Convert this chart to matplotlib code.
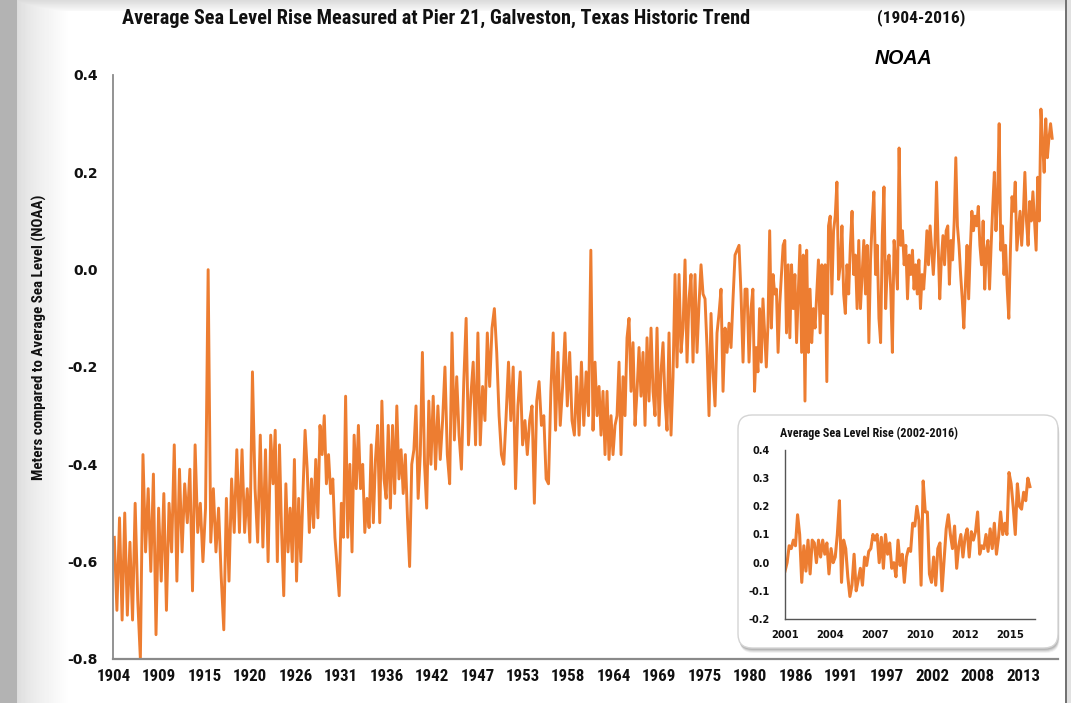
import numpy as np
import matplotlib
matplotlib.use('Agg')
import matplotlib.pyplot as plt
from matplotlib import font_manager as fm
from matplotlib.patches import FancyBboxPatch
from matplotlib.transforms import IdentityTransform

# ---------------- data (metres relative to average sea level) ----------------
seg_edges = [1904.0, 1923.02, 1942.16, 1961.30, 1980.44, 1999.34, 2016.44]

level_1904_1923 = [-0.55, -0.70, -0.51, -0.72, -0.50, -0.71, -0.56, -0.72, -0.48, -0.68,
                   -0.80, -0.38, -0.58, -0.45, -0.62, -0.42, -0.75, -0.49, -0.64, -0.46,
                   -0.70, -0.48, -0.58, -0.36, -0.64, -0.41, -0.58, -0.44, -0.52, -0.41,
                   -0.66, -0.36, -0.54, -0.48, -0.60, -0.49, 0.00, -0.56, -0.45, -0.58,
                   -0.49, -0.63, -0.74, -0.47, -0.64, -0.43, -0.54, -0.37, -0.54, -0.37,
                   -0.54, -0.45, -0.56, -0.21, -0.45, -0.56, -0.34, -0.57, -0.37, -0.60,
                   -0.34]
level_1923_1942 = [-0.44, -0.33, -0.60, -0.36, -0.54, -0.67, -0.44, -0.58, -0.49, -0.60,
                   -0.39, -0.64, -0.47, -0.60, -0.46, -0.33, -0.41, -0.54, -0.43, -0.53,
                   -0.39, -0.51, -0.32, -0.38, -0.30, -0.44, -0.38, -0.46, -0.43, -0.55,
                   -0.61, -0.67, -0.48, -0.55, -0.26, -0.55, -0.40, -0.58, -0.34, -0.45,
                   -0.32, -0.45, -0.40, -0.54, -0.47, -0.53, -0.36, -0.52, -0.39, -0.32,
                   -0.52, -0.27, -0.43, -0.47, -0.32, -0.49, -0.32, -0.46, -0.28, -0.43,
                   -0.37, -0.46, -0.38, -0.51, -0.61, -0.40, -0.37, -0.28, -0.47, -0.38,
                   -0.17, -0.40, -0.49, -0.27, -0.40]
level_1942_1961 = [-0.26, -0.41, -0.28, -0.39, -0.31, -0.20, -0.38, -0.44, -0.13, -0.35,
                   -0.22, -0.34, -0.41, -0.23, -0.10, -0.36, -0.26, -0.19, -0.36, -0.13,
                   -0.36, -0.24, -0.31, -0.13, -0.24, -0.12, -0.08, -0.17, -0.30, -0.38,
                   -0.40, -0.30, -0.19, -0.31, -0.20, -0.45, -0.28, -0.21, -0.36, -0.31,
                   -0.38, -0.31, -0.28, -0.48, -0.27, -0.23, -0.32, -0.30, -0.43, -0.44,
                   -0.25, -0.13, -0.33, -0.17, -0.32, -0.24, -0.13, -0.28, -0.17, -0.31,
                   -0.34, -0.22, -0.34, -0.19, -0.32, -0.21, -0.30, 0.04]
level_1961_1980 = [-0.33, -0.19, -0.30, -0.24, -0.34, -0.25, -0.38, -0.25, -0.39, -0.30,
                   -0.38, -0.32, -0.30, -0.19, -0.38, -0.22, -0.30, -0.14, -0.10, -0.25,
                   -0.15, -0.32, -0.25, -0.16, -0.26, -0.17, -0.32, -0.14, -0.27, -0.12,
                   -0.25, -0.30, -0.12, -0.32, -0.21, -0.15, -0.27, -0.33, -0.13, -0.34,
                   -0.22, -0.01, -0.20, -0.01, -0.17, -0.12, 0.02, -0.19, -0.06, -0.01,
                   -0.19, -0.01, -0.17, -0.07, 0.01, -0.05, -0.06, -0.16, -0.30, -0.09,
                   -0.21, -0.28, -0.13, -0.09, -0.04, -0.25, -0.12, -0.17, -0.11, -0.16,
                   -0.06, 0.03, 0.04, 0.05, -0.05, -0.19, -0.04, -0.04, -0.19, -0.08]
level_1980_1999 = [-0.04, -0.25, -0.16, -0.21, -0.08, -0.19, -0.06, -0.13, -0.20, -0.11,
                   0.08, -0.12, -0.01, -0.05, -0.04, -0.17, -0.07, -0.01, 0.05, 0.06,
                   -0.13, 0.01, -0.14, 0.01, -0.08, -0.01, -0.15, -0.05, 0.05, -0.17,
                   0.03, -0.27, 0.04, -0.17, -0.04, -0.15, -0.08, -0.12, -0.05, 0.02,
                   -0.13, 0.01, -0.09, 0.01, -0.23, 0.09, 0.11, -0.05, 0.08, 0.11,
                   0.18, -0.02, 0.01, 0.09, -0.05, -0.09, 0.01, -0.05, 0.05, 0.12,
                   -0.01, 0.03, -0.08, 0.06, -0.08, -0.01, 0.06, -0.05, 0.05, -0.15,
                   0.02, 0.10, 0.16, -0.01, 0.05, -0.10, -0.15, 0.07, 0.17, -0.08,
                   0.01, 0.03, -0.04, -0.17, 0.06, 0.02, -0.04, 0.25, 0.05, 0.08,
                   0.01, 0.05, -0.06, 0.03]
level_1999_2016 = [-0.01, 0.04, -0.04, 0.01, -0.05, 0.02, -0.08, -0.01, -0.04, 0.01,
                   0.08, 0.01, 0.09, 0.04, -0.01, 0.05, 0.18, 0.05, -0.06, 0.02,
                   0.07, 0.01, 0.08, 0.09, -0.03, 0.06, 0.02, 0.10, 0.23, 0.09,
                   0.05, -0.01, -0.06, -0.12, -0.03, 0.05, -0.06, 0.04, 0.12, 0.08,
                   0.11, 0.09, 0.13, 0.05, 0.01, 0.10, -0.04, 0.04, 0.06, -0.04,
                   0.05, 0.13, 0.20, 0.08, 0.15, 0.30, 0.04, 0.09, -0.01, 0.05,
                   -0.04, -0.10, 0.04, 0.15, 0.12, 0.18, 0.04, 0.08, 0.12, 0.05,
                   0.11, 0.20, 0.10, 0.05, 0.14, 0.10, 0.16, 0.10, 0.04, 0.19,
                   0.10, 0.33, 0.26, 0.20, 0.31, 0.23, 0.27, 0.30, 0.27]
segments = [level_1904_1923, level_1923_1942, level_1942_1961,
            level_1961_1980, level_1980_1999, level_1999_2016]

x_tick_labels = ['1904', '1909', '1915', '1920', '1926', '1931', '1936', '1942', '1947',
                 '1953', '1958', '1964', '1969', '1975', '1980', '1986', '1991', '1997',
                 '2002', '2008', '2013']
y_ticks = [-0.8, -0.6, -0.4, -0.2, 0.0, 0.2, 0.4]
y_tick_labels = ['-0.8', '-0.6', '-0.4', '-0.2', '0.0', '0.2', '0.4']

# inset: 2002-2016 detail
inset_start, inset_end = 2001.0, 2016.0
inset_level = [-0.03, 0.00, 0.06, 0.05, 0.08, 0.06, 0.17, 0.10, -0.07, 0.06,
               -0.03, 0.08, -0.04, 0.08, 0.07, 0.00, 0.08, 0.02, 0.08, 0.03,
               0.07, -0.04, 0.05, 0.00, 0.02, 0.10, 0.22, -0.07, 0.08, 0.05,
               -0.05, -0.12, -0.08, 0.03, -0.10, -0.06, -0.02, -0.08, 0.02, -0.01,
               0.04, 0.05, 0.10, 0.08, 0.10, 0.00, 0.09, -0.02, 0.10, 0.03,
               0.07, -0.02, 0.00, -0.05, 0.08, -0.01, 0.03, -0.07, 0.02, 0.05,
               0.04, 0.14, 0.13, 0.20, 0.15, -0.08, 0.29, 0.18, 0.18, -0.04,
               -0.07, 0.02, -0.08, 0.05, 0.07, -0.10, 0.01, 0.12, 0.17, 0.10,
               0.05, 0.13, -0.02, 0.06, 0.10, 0.02, 0.09, 0.12, 0.02, 0.11,
               0.08, 0.11, 0.18, 0.03, 0.06, 0.05, 0.10, 0.04, 0.12, 0.05,
               0.14, 0.03, 0.09, 0.18, 0.10, 0.14, 0.10, 0.32, 0.28, 0.20,
               0.10, 0.28, 0.20, 0.19, 0.25, 0.22, 0.30, 0.27]
inset_x_labels = ['2001', '2004', '2007', '2010', '2012', '2015']
inset_y_ticks = [-0.2, -0.1, 0.0, 0.1, 0.2, 0.3, 0.4]
inset_y_labels = ['-0.2', '-0.1', '0.0', '0.1', '0.2', '0.3', '0.4']

# ---------------- fonts ----------------
names = {f.name for f in fm.fontManager.ttflist}
COND = None
COND_STRETCH = 'normal'
for cand in ['Liberation Sans Narrow', 'Roboto Condensed', 'Open Sans Condensed',
             'Arial Narrow', 'Nimbus Sans Narrow', 'DejaVu Sans Condensed']:
    if cand in names:
        COND = cand
        break
if COND is None and any(f.name == 'DejaVu Sans' and f.stretch == 'condensed'
                        for f in fm.fontManager.ttflist):
    COND = 'DejaVu Sans'
    COND_STRETCH = 'condensed'
if COND is None:
    COND = 'Liberation Sans' if 'Liberation Sans' in names else 'DejaVu Sans'
NARROW = [COND, 'DejaVu Sans']

# ---------------- figure ----------------
W, H = 1071, 703
ORANGE = '#ED7D31'
fig = plt.figure(figsize=(W / 100, H / 100), dpi=100)
fig.patch.set_facecolor('white')

# background frame shading (left shadow, top band, right border)
bg = np.ones((H, W))
xs = np.arange(W)
left = np.ones(W)
left[:17] = 0.70
g = (xs >= 17) & (xs < 70)
left[g] = 0.86 + 0.14 * ((xs[g] - 17) / 53.0) ** 0.7
ys = np.arange(H)
top = np.ones(H)
top[:11] = 0.86 + 0.12 * ys[:11] / 11.0
bg = np.minimum(bg, left[None, :])
bg = np.minimum(bg, top[:, None])
bg[:, 1065:1067] = 0.45
bg[:, 1067:] = 0.88
bgax = fig.add_axes([0, 0, 1, 1], zorder=-10)
bgax.imshow(bg, cmap='gray', vmin=0, vmax=1, aspect='auto', interpolation='bilinear')
bgax.axis('off')

# main axes
ax = fig.add_axes([113 / W, 1 - 659 / H, (1058 - 113) / W, (659 - 75) / H], zorder=1)
ax.set_facecolor('none')
xs_all, ys_all = [], []
for i, seg in enumerate(segments):
    a, b = seg_edges[i], seg_edges[i + 1]
    n = len(seg)
    xs_all.append(a + (np.arange(n) + 0.5) * (b - a) / n)
    ys_all.append(np.array(seg))
years = np.concatenate(xs_all)
levels = np.concatenate(ys_all)
ax.plot(years, levels, color=ORANGE, lw=2.1, solid_joinstyle='round')
ax.set_xlim(1904.0, 2017.04)
ax.set_ylim(-0.8, 0.4)
ax.set_yticks(y_ticks)
ax.set_yticklabels(y_tick_labels, fontfamily='DejaVu Sans', fontweight='bold', fontsize=10)
ax.set_xticks(np.linspace(1904.1, 2012.85, len(x_tick_labels)))
ax.set_xticklabels(x_tick_labels, fontfamily=NARROW, fontweight='bold',
                   fontstretch=COND_STRETCH, fontsize=13)
ax.tick_params(axis='both', length=0, colors='#111111')
ax.tick_params(axis='x', pad=7)
ax.tick_params(axis='y', pad=11)
for s in ['top', 'right']:
    ax.spines[s].set_visible(False)
ax.spines['left'].set_color('#8a8a8a')
ax.spines['left'].set_linewidth(1.3)
ax.spines['bottom'].set_color('#8a8a8a')
ax.spines['bottom'].set_linewidth(1.6)

# inset box with shadow (pixel coordinates)
bx0, by0, bw, bh = 738, H - 648, 320, 233
for k, al in [(5, 0.05), (4, 0.07), (3, 0.09), (2, 0.10)]:
    sh = FancyBboxPatch((bx0 + k * 0.3, by0 - k), bw, bh,
                        boxstyle='round,pad=0,rounding_size=14',
                        transform=IdentityTransform(), facecolor='black',
                        edgecolor='none', alpha=al, zorder=4)
    fig.add_artist(sh)
box = FancyBboxPatch((bx0, by0), bw, bh, boxstyle='round,pad=0,rounding_size=14',
                     transform=IdentityTransform(), facecolor='white',
                     edgecolor='#d4d4d4', linewidth=1.0, zorder=5)
fig.add_artist(box)

iax = fig.add_axes([785 / W, 1 - 619 / H, 250 / W, 169 / H], zorder=6)
iax.set_facecolor('none')
ix = np.linspace(inset_start, inset_end, len(inset_level))
iax.plot(ix, inset_level, color=ORANGE, lw=2.2, solid_joinstyle='round')
iax.set_xlim(2001.0, 2016.31)
iax.set_ylim(-0.2, 0.4)
iax.set_yticks(inset_y_ticks)
iax.set_yticklabels(inset_y_labels, fontfamily='DejaVu Sans', fontweight='bold', fontsize=7)
iax.set_xticks(np.linspace(2001.0, 2001.0 + 5 * 2.755, len(inset_x_labels)))
iax.set_xticklabels(inset_x_labels, fontfamily='DejaVu Sans', fontweight='bold', fontsize=7.2)
iax.tick_params(axis='both', length=0, colors='#111111')
iax.tick_params(axis='x', pad=8)
iax.tick_params(axis='y', pad=11)
for s in ['top', 'right']:
    iax.spines[s].set_visible(False)
for s in ['left', 'bottom']:
    iax.spines[s].set_color('#555555')
    iax.spines[s].set_linewidth(1.0)

# ---------------- texts ----------------
def px(x, y):
    return x / W, 1 - y / H

renderer = fig.canvas.get_renderer()

def fit(t, target, vertical=False):
    bb = t.get_window_extent(renderer)
    cur = bb.height if vertical else bb.width
    t.set_fontsize(t.get_fontsize() * target / cur)

# fit x tick labels so "1904" is about 34 px wide
probe = fig.text(0, 0, '1904', fontfamily=NARROW, fontweight='bold',
                 fontstretch=COND_STRETCH, fontsize=13)
fit(probe, 34)
xt_size = probe.get_fontsize()
probe.remove()
for lab in ax.get_xticklabels():
    lab.set_fontsize(xt_size)

t1 = fig.text(*px(122, 18), 'Average Sea Level Rise Measured at Pier 21, Galveston, Texas Historic Trend',
              fontfamily=NARROW, fontweight='bold', fontstretch=COND_STRETCH, fontsize=13,
              ha='left', va='center', color='#111111')
fit(t1, 623)
t2 = fig.text(*px(877, 18), '(1904-2016)', fontfamily=NARROW, fontweight='bold',
              fontstretch=COND_STRETCH, fontsize=13, ha='left', va='center', color='#111111')
fit(t2, 88)
t3 = fig.text(*px(875, 58), 'NOAA', fontfamily=['Liberation Sans', 'DejaVu Sans'],
              fontweight='bold', fontstyle='italic', fontsize=15, ha='left', va='center',
              color='black')
fit(t3, 58)
t4 = fig.text(*px(39, 337), 'Meters compared to Average Sea Level (NOAA)', fontfamily=NARROW,
              fontweight='bold', fontstretch=COND_STRETCH, fontsize=10, rotation=90,
              ha='center', va='center', color='#111111')
fit(t4, 285, vertical=True)
t5 = fig.text(*px(780, 433), 'Average Sea Level Rise (2002-2016)', fontfamily=NARROW,
              fontweight='bold', fontstretch=COND_STRETCH, fontsize=8, ha='left',
              va='center', color='#111111', zorder=7)
fit(t5, 177)

fig.savefig('out.png', dpi=100, facecolor='white')
